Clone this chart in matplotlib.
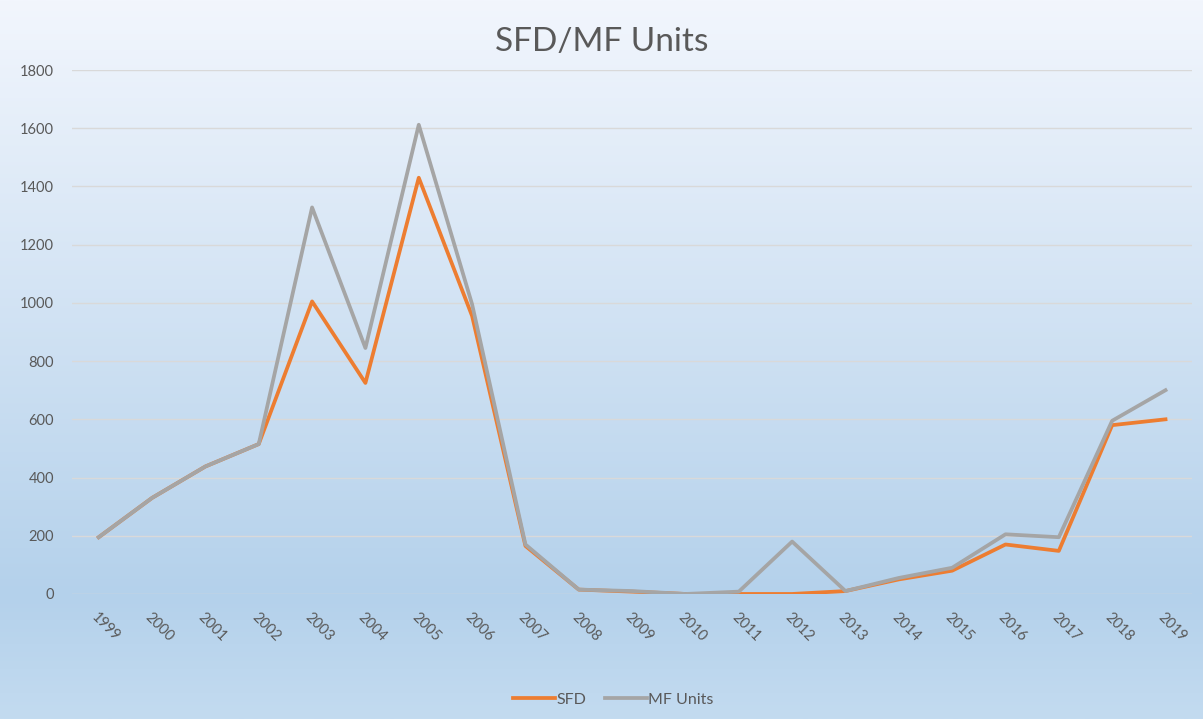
import numpy as np
import matplotlib
matplotlib.use("Agg")
import matplotlib.pyplot as plt
from matplotlib.colors import LinearSegmentedColormap

years = [str(y) for y in range(1999, 2020)]
sfd = [195, 330, 438, 515, 1005, 725, 1430, 955, 165, 15, 8, 0, 0, 0, 10, 50, 80, 170, 148, 580, 600]
mf_units = [195, 330, 438, 515, 1328, 845, 1612, 995, 170, 15, 10, 0, 8, 180, 10, 55, 90, 205, 195, 595, 700]
y_ticks = [0, 200, 400, 600, 800, 1000, 1200, 1400, 1600, 1800]

plt.rcParams['font.family'] = ['Lato', 'DejaVu Sans']

fig = plt.figure(figsize=(12.03, 7.19), dpi=100)

# background gradient like the excel chart area
bg = fig.add_axes([0, 0, 1, 1], zorder=-10)
cmap = LinearSegmentedColormap.from_list(
    "bg", [(0.0, "#f2f6fd"), (0.83, "#b4d1eb"), (1.0, "#c3dbf0")])
grad = np.linspace(0, 1, 256).reshape(-1, 1)
bg.imshow(grad, aspect="auto", cmap=cmap, extent=[0, 1, 0, 1], origin="upper")
bg.axis("off")

ax = fig.add_axes([0.0599, 0.1739, 0.9311, 0.7287])
ax.patch.set_alpha(0)
x = np.arange(len(years))
ax.plot(x, sfd, color="#ed7d31", lw=2.7, label="SFD", solid_joinstyle="round")
ax.plot(x, mf_units, color="#a5a5a5", lw=2.7, label="MF Units", solid_joinstyle="round")

ax.set_xlim(-0.5, len(years) - 0.5)
ax.set_ylim(0, 1800)
ax.set_yticks(y_ticks)
ax.set_yticklabels([str(v) for v in y_ticks])
ax.yaxis.grid(True, color="#d9d9d9", lw=1)
ax.set_axisbelow(True)
for s in ax.spines.values():
    s.set_visible(False)
ax.tick_params(axis="both", length=0, labelcolor="#595959", labelsize=10.5)
ax.tick_params(axis="y", pad=13)
ax.set_xticks(x)
ax.set_xticklabels(years, rotation=-45, ha="left", va="top", rotation_mode="anchor")
ax.tick_params(axis="x", pad=12)

fig.text(0.5, 0.942, "SFD/MF Units", ha="center", va="center", fontsize=24, color="#595959")

fig.legend(loc="center", bbox_to_anchor=(0.51, 0.027), ncol=2, frameon=False,
           fontsize=11.5, labelcolor="#595959", handlelength=2.6, handletextpad=0.1,
           columnspacing=1.2)

fig.savefig("out.png", dpi=100)
